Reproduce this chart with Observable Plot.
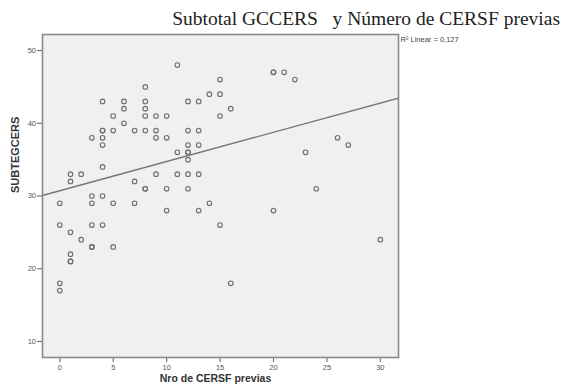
<!DOCTYPE html>
<html>
<head>
<meta charset="utf-8">
<script src="https://cdn.jsdelivr.net/npm/d3@7"></script>
<script src="https://cdn.jsdelivr.net/npm/@observablehq/plot@0.6"></script>
<style>
  html, body { margin: 0; padding: 0; background: #fff; }
  #wrap { width: 562px; height: 388px; position: relative; overflow: hidden; }
  #title { position: absolute; left: 0; top: 8px; width: 560px; text-align: right;
           font-family: "Liberation Serif", "Times New Roman", serif; font-size: 19.5px;
           line-height: 22px; color: #222; white-space: pre; }
  #chart { position: absolute; left: 0; top: 30px; }
</style>
</head>
<body>
<div id="wrap">
  <div id="title">Subtotal GCCERS   y Número de CERSF previas</div>
  <div id="chart"></div>
</div>
<script>
// Nro de CERSF previas (x) and SUBTEGCERS (y), one entry per respondent
const nroCersf = [
  0,0,0,0,
  1,1,1,1,1,1,
  2,2,
  3,3,3,3,3,3,
  4,4,4,4,4,4,4,4,
  5,5,5,5,
  6,6,6,
  7,7,7,
  8,8,8,8,8,8,8,
  9,9,9,9,
  10,10,10,10,
  11,11,11,
  12,12,12,12,12,12,12,12,
  13,13,13,13,13,
  14,14,
  15,15,15,15,
  16,16,
  20,20,20,
  21,22,23,24,26,27,30
];
const subtegcers = [
  29,26,18,17,
  33,32,25,22,21,21,
  33,24,
  38,30,29,26,23,23,
  43,39,39,38,37,34,30,26,
  41,39,29,23,
  43,42,40,
  39,32,29,
  45,43,42,41,39,31,31,
  41,39,38,33,
  41,38,31,28,
  48,36,33,
  43,39,37,36,36,35,33,31,
  43,39,37,33,28,
  44,29,
  46,44,41,26,
  42,18,
  47,47,28,
  47,46,36,31,38,37,24
];
const xTicks = [0, 5, 10, 15, 20, 25, 30];
const yTicks = [10, 20, 30, 40, 50];
const xDomain = [-1.62, 31.7];
const yDomain = [7.8, 52.2];
const r2Label = "R² Linear = 0,127";
const xTitle = "Nro de CERSF previas";
const yTitle = "SUBTEGCERS";

const data = nroCersf.map((x, i) => ({x, y: subtegcers[i]}));

// least-squares fit
const mx = d3.mean(nroCersf), my = d3.mean(subtegcers);
const sxy = d3.sum(data, d => (d.x - mx) * (d.y - my));
const sxx = d3.sum(data, d => (d.x - mx) ** 2);
const slope = sxy / sxx, intercept = my - slope * mx;
const fit = xDomain.map(x => ({x, y: intercept + slope * x}));

const plot = Plot.plot({
  width: 562,
  height: 358,
  marginLeft: 42,
  marginRight: 164,
  marginTop: 4,
  marginBottom: 31,
  style: {background: "transparent", fontFamily: "Liberation Sans, Arial, sans-serif", fontSize: "7.5px", color: "#555"},
  x: {domain: xDomain, ticks: xTicks, tickSize: 5, tickPadding: 3, label: null},
  y: {domain: yDomain, ticks: yTicks, tickSize: 5, tickPadding: 1.5, label: null},
  marks: [
    Plot.frame({fill: "#f0f0f0", stroke: "none"}),
    Plot.axisX({ticks: xTicks, tickSize: 5, tickPadding: 2.5, stroke: "#777", strokeWidth: 1.2, label: null, fill: "#555"}),
    Plot.axisY({ticks: yTicks, tickSize: 5, tickPadding: 1.5, stroke: "#777", strokeWidth: 1.2, label: null, fill: "#555"}),
    Plot.line(fit, {x: "x", y: "y", stroke: "#777", strokeWidth: 1.4, clip: true}),
    Plot.dot(data, {x: "x", y: "y", r: 2.3, stroke: "#6e6e6e", strokeWidth: 1.1, fill: "none"}),
    Plot.frame({stroke: "#8a8a8a", strokeWidth: 1.6}),
    Plot.text([r2Label], {frameAnchor: "top-right", textAnchor: "start", dx: 2, dy: 2,
      fontSize: 7.5, fill: "#444", fontFamily: "Liberation Sans, Arial, sans-serif"}),
    Plot.text([yTitle], {frameAnchor: "left", rotate: -90, dx: -27, dy: -3,
      fontSize: 11, fontWeight: "bold", fill: "#333", fontFamily: "Liberation Sans, Arial, sans-serif"}),
    Plot.text([xTitle], {frameAnchor: "bottom", dy: 24, dx: -5,
      fontSize: 10.5, fontWeight: "bold", fill: "#333", fontFamily: "Liberation Sans, Arial, sans-serif"})
  ]
});
document.getElementById("chart").appendChild(plot);
</script>
</body>
</html>
